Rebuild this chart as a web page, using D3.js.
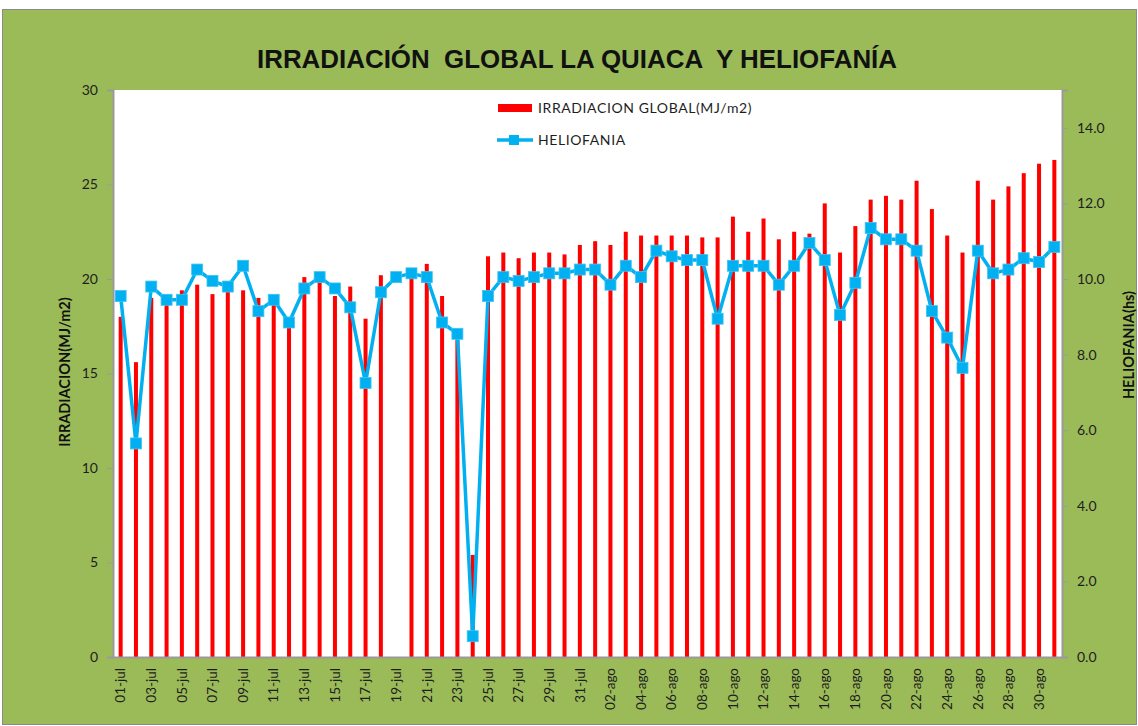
<!DOCTYPE html>
<html>
<head>
<meta charset="utf-8">
<script src="https://cdn.jsdelivr.net/npm/d3@7"></script>
<style>
  body { margin: 0; background: #fff; }
  svg { display: block; }
  text { font-family: Lato, "Open Sans", sans-serif; fill: #1e1e1e; }
</style>
</head>
<body>
<svg id="chart" width="1138" height="726"></svg>
<script>
// days: 01-jul .. 31-ago
const months = ["jul", "ago"];
const daysPerMonth = [31, 31];

// irradiacion global (MJ/m2), 19-jul sin dato
const irradiacion = [
  18.0, 15.6, 19.0, 18.8, 19.4, 19.7, 19.2, 19.5, 19.4, 19.0,
  18.9, 17.5, 20.1, 20.0, 19.1, 19.6, 17.9, 20.2, null, 20.4,
  20.8, 19.1, 16.8, 5.4, 21.2, 21.4, 21.1, 21.4, 21.4, 21.3,
  21.8,
  22.0, 21.8, 22.5, 22.3, 22.3, 22.3, 22.3, 22.2, 22.2, 23.3,
  22.5, 23.2, 22.1, 22.5, 22.4, 24.0, 21.4, 22.8, 24.2, 24.4,
  24.2, 25.2, 23.7, 22.3, 21.4, 25.2, 24.2, 24.9, 25.6, 26.1,
  26.3
];

// heliofania (hs)
const heliofania = [
  9.55, 5.65, 9.8, 9.45, 9.45, 10.25, 9.95, 9.8, 10.35, 9.15,
  9.45, 8.85, 9.75, 10.05, 9.75, 9.25, 7.25, 9.65, 10.05, 10.15,
  10.05, 8.85, 8.55, 0.55, 9.55, 10.05, 9.95, 10.05, 10.15, 10.15,
  10.25,
  10.25, 9.85, 10.35, 10.05, 10.75, 10.6, 10.5, 10.5, 8.95, 10.35,
  10.35, 10.35, 9.85, 10.35, 10.95, 10.5, 9.05, 9.9, 11.35, 11.05,
  11.05, 10.75, 9.15, 8.45, 7.65, 10.75, 10.15, 10.25, 10.55, 10.45,
  10.85
];

const leftTicks = [0, 5, 10, 15, 20, 25, 30];
const rightTicks = [0, 2, 4, 6, 8, 10, 12, 14];

const days = [];
months.forEach((m, k) => {
  for (let d = 1; d <= daysPerMonth[k]; d++) {
    days.push(String(d).padStart(2, "0") + "-" + m);
  }
});

const svg = d3.select("#chart");
const plot = { left: 113, right: 1062, top: 90, bottom: 657 };

// background
svg.append("rect")
  .attr("x", 2.5).attr("y", 9.5)
  .attr("width", 1134).attr("height", 715)
  .attr("fill", "#9bbb59")
  .attr("stroke", "#8a8a8a");

svg.append("rect")
  .attr("x", plot.left).attr("y", plot.top)
  .attr("width", plot.right - plot.left)
  .attr("height", plot.bottom - plot.top)
  .attr("fill", "#fff");

// title
svg.append("text")
  .attr("x", 577).attr("y", 68)
  .attr("text-anchor", "middle")
  .attr("textLength", 640)
  .attr("lengthAdjust", "spacingAndGlyphs")
  .style("font-family", "'Liberation Sans', Arial, sans-serif")
  .style("font-weight", "bold")
  .style("font-size", "26px")
  .style("white-space", "pre")
  .style("fill", "#111")
  .text("IRRADIACIÓN  GLOBAL LA QUIACA  Y HELIOFANÍA");

// scales
const x = d3.scaleBand()
  .domain(days)
  .range([plot.left, plot.right])
  .paddingInner(0).paddingOuter(0);

const yL = d3.scaleLinear().domain([0, 30]).range([plot.bottom, plot.top]);
const yR = d3.scaleLinear().domain([0, 15]).range([plot.bottom, plot.top]);

// bars
const barW = 4;
svg.append("g")
  .selectAll("rect")
  .data(days.map((d, i) => ({ day: d, v: irradiacion[i] })).filter(d => d.v != null))
  .enter()
  .append("rect")
  .attr("x", d => x(d.day) + x.bandwidth() / 2 - barW / 2)
  .attr("y", d => yL(d.v))
  .attr("width", barW)
  .attr("height", d => yL(0) - yL(d.v))
  .attr("fill", "#ff0000");

// axes
const axisColor = "#9a9a9a";

const gL = svg.append("g")
  .attr("transform", `translate(${plot.left},0)`)
  .call(d3.axisLeft(yL).tickValues(leftTicks).tickSize(6).tickPadding(9));

const gR = svg.append("g")
  .attr("transform", `translate(${plot.right},0)`)
  .call(d3.axisRight(yR).tickValues(rightTicks).tickSize(6).tickPadding(9)
    .tickFormat(d3.format(".1f")));

const gB = svg.append("g")
  .attr("transform", `translate(0,${plot.bottom})`)
  .call(d3.axisBottom(x).tickValues(days.filter((d, i) => i % 2 === 0)).tickSize(0));

[gL, gR, gB].forEach(g => {
  g.select(".domain").attr("stroke", axisColor).attr("stroke-width", 2);
  g.selectAll(".tick line").attr("stroke", axisColor);
  g.selectAll(".tick text")
    .style("font-family", "Lato, 'Open Sans', sans-serif")
    .style("font-size", "14px")
    .attr("fill", "#1e1e1e");
});

gB.selectAll(".tick text")
  .style("font-size", "13.5px")
  .attr("transform", "rotate(-90)")
  .attr("text-anchor", "end")
  .attr("x", -11)
  .attr("y", 0)
  .attr("dy", "0.35em");

// heliofania line
const line = d3.line()
  .x((d, i) => x(days[i]) + x.bandwidth() / 2)
  .y(d => yR(d));

svg.append("path")
  .datum(heliofania)
  .attr("d", line)
  .attr("fill", "none")
  .attr("stroke", "#00b0f0")
  .attr("stroke-width", 3.5)
  .attr("stroke-linejoin", "round");

const mk = 11;
svg.append("g")
  .selectAll("rect")
  .data(heliofania)
  .enter()
  .append("rect")
  .attr("x", (d, i) => x(days[i]) + x.bandwidth() / 2 - mk / 2)
  .attr("y", d => yR(d) - mk / 2)
  .attr("width", mk)
  .attr("height", mk)
  .attr("fill", "#00b0f0")
  .attr("stroke", "#3fc4f3")
  .attr("stroke-width", 0.8);

// axis titles
svg.append("text")
  .attr("transform", "translate(70,372) rotate(-90)")
  .attr("text-anchor", "middle")
  .style("font-weight", "bold")
  .style("font-size", "14.5px")
  .style("fill", "#111")
  .text("IRRADIACION(MJ/m2)");

svg.append("text")
  .attr("transform", "translate(1134,345) rotate(-90)")
  .attr("text-anchor", "middle")
  .style("font-weight", "bold")
  .style("font-size", "14.5px")
  .style("fill", "#111")
  .text("HELIOFANIA(hs)");

// legend
const lg = svg.append("g");
lg.append("rect")
  .attr("x", 498).attr("y", 104)
  .attr("width", 34).attr("height", 8)
  .attr("fill", "#ff0000");
lg.append("text")
  .attr("x", 538).attr("y", 108).attr("dy", "0.35em")
  .style("font-size", "14px")
  .style("letter-spacing", "0.6px")
  .text("IRRADIACION GLOBAL(MJ/m2)");
lg.append("line")
  .attr("x1", 497).attr("x2", 533)
  .attr("y1", 140).attr("y2", 140)
  .attr("stroke", "#00b0f0").attr("stroke-width", 3.5);
lg.append("rect")
  .attr("x", 509).attr("y", 135)
  .attr("width", 10).attr("height", 10)
  .attr("fill", "#00b0f0");
lg.append("text")
  .attr("x", 538).attr("y", 140).attr("dy", "0.35em")
  .style("font-size", "14px")
  .style("letter-spacing", "0.6px")
  .text("HELIOFANIA");
</script>
</body>
</html>
